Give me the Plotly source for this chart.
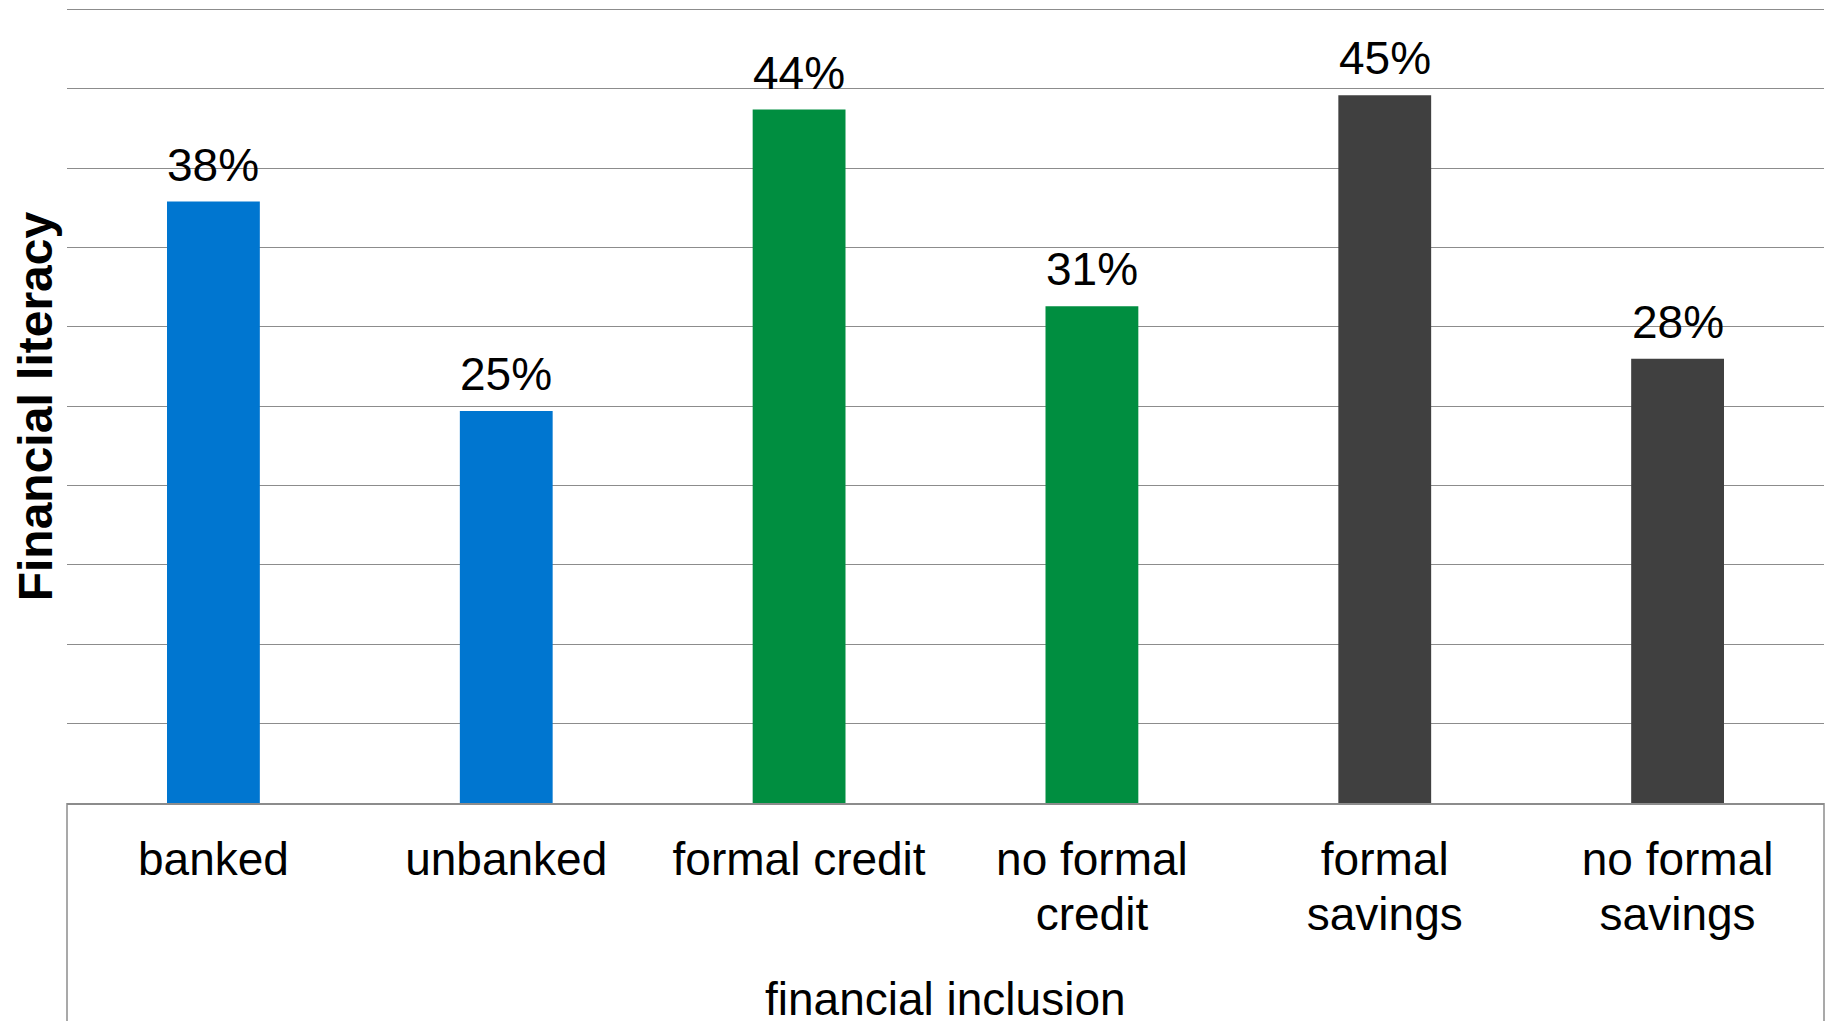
import plotly.graph_objects as go

categories = ["banked", "unbanked", "formal credit", "no formal<br>credit", "formal<br>savings", "no formal<br>savings"]
values = [37.9, 24.7, 43.7, 31.3, 44.6, 28.0]
labels = ["38%", "25%", "44%", "31%", "45%", "28%"]
colors = ["#0076D0", "#0076D0", "#008E40", "#008E40", "#404040", "#404040"]
y_title = "Financial literacy"
x_title = "financial inclusion"

FONT = "Arial, 'Liberation Sans', Helvetica, sans-serif"
GRID = "#8C8C8C"

fig = go.Figure()
fig.add_trace(go.Bar(
    x=categories, y=values,
    marker=dict(color=colors, line=dict(width=0)),
    hoverinfo="skip",
))

for c, v, t in zip(categories, values, labels):
    fig.add_annotation(x=c, y=v, text=t, showarrow=False, yanchor="bottom",
                       yshift=9, font=dict(family=FONT, size=46, color="black"))

fig.add_annotation(xref="paper", yref="paper", x=0, y=0.494, text="<b>" + y_title + "</b>",
                   textangle=-90, showarrow=False, xanchor="center", yanchor="middle",
                   xshift=-32, font=dict(family=FONT, size=48, color="black"))
fig.add_annotation(xref="paper", yref="paper", x=0.5, y=0, text=x_title,
                   showarrow=False, xanchor="center", yanchor="top",
                   yshift=-168, font=dict(family=FONT, size=46, color="black"))

for xp in (0, 1):
    fig.add_shape(type="line", xref="paper", yref="paper", x0=xp, x1=xp, y0=0, y1=-0.3,
                  line=dict(color=GRID, width=1.5))

tick_text = ['<span style="font-size:46px">' + c + '</span>' for c in categories]

fig.update_layout(
    width=1833, height=1021,
    margin=dict(l=67, r=9, t=0, b=218),
    paper_bgcolor="white", plot_bgcolor="white",
    bargap=0.683,
    showlegend=False,
    font=dict(family=FONT, size=46, color="black"),
)
fig.update_xaxes(showline=True, linecolor=GRID, linewidth=1.5, showgrid=False,
                 ticks="", tickmode="array", tickvals=categories, ticktext=tick_text,
                 ticklabelstandoff=20,
                 tickfont=dict(family=FONT, size=42, color="black"))
fig.update_yaxes(range=[0, 50.6], dtick=5, tick0=0, showgrid=True, gridcolor=GRID, gridwidth=1.3,
                 zeroline=False, showticklabels=False, ticks="")

fig.write_html("out.html", config={"displayModeBar": False},
               post_script="document.body.style.margin='0';")
